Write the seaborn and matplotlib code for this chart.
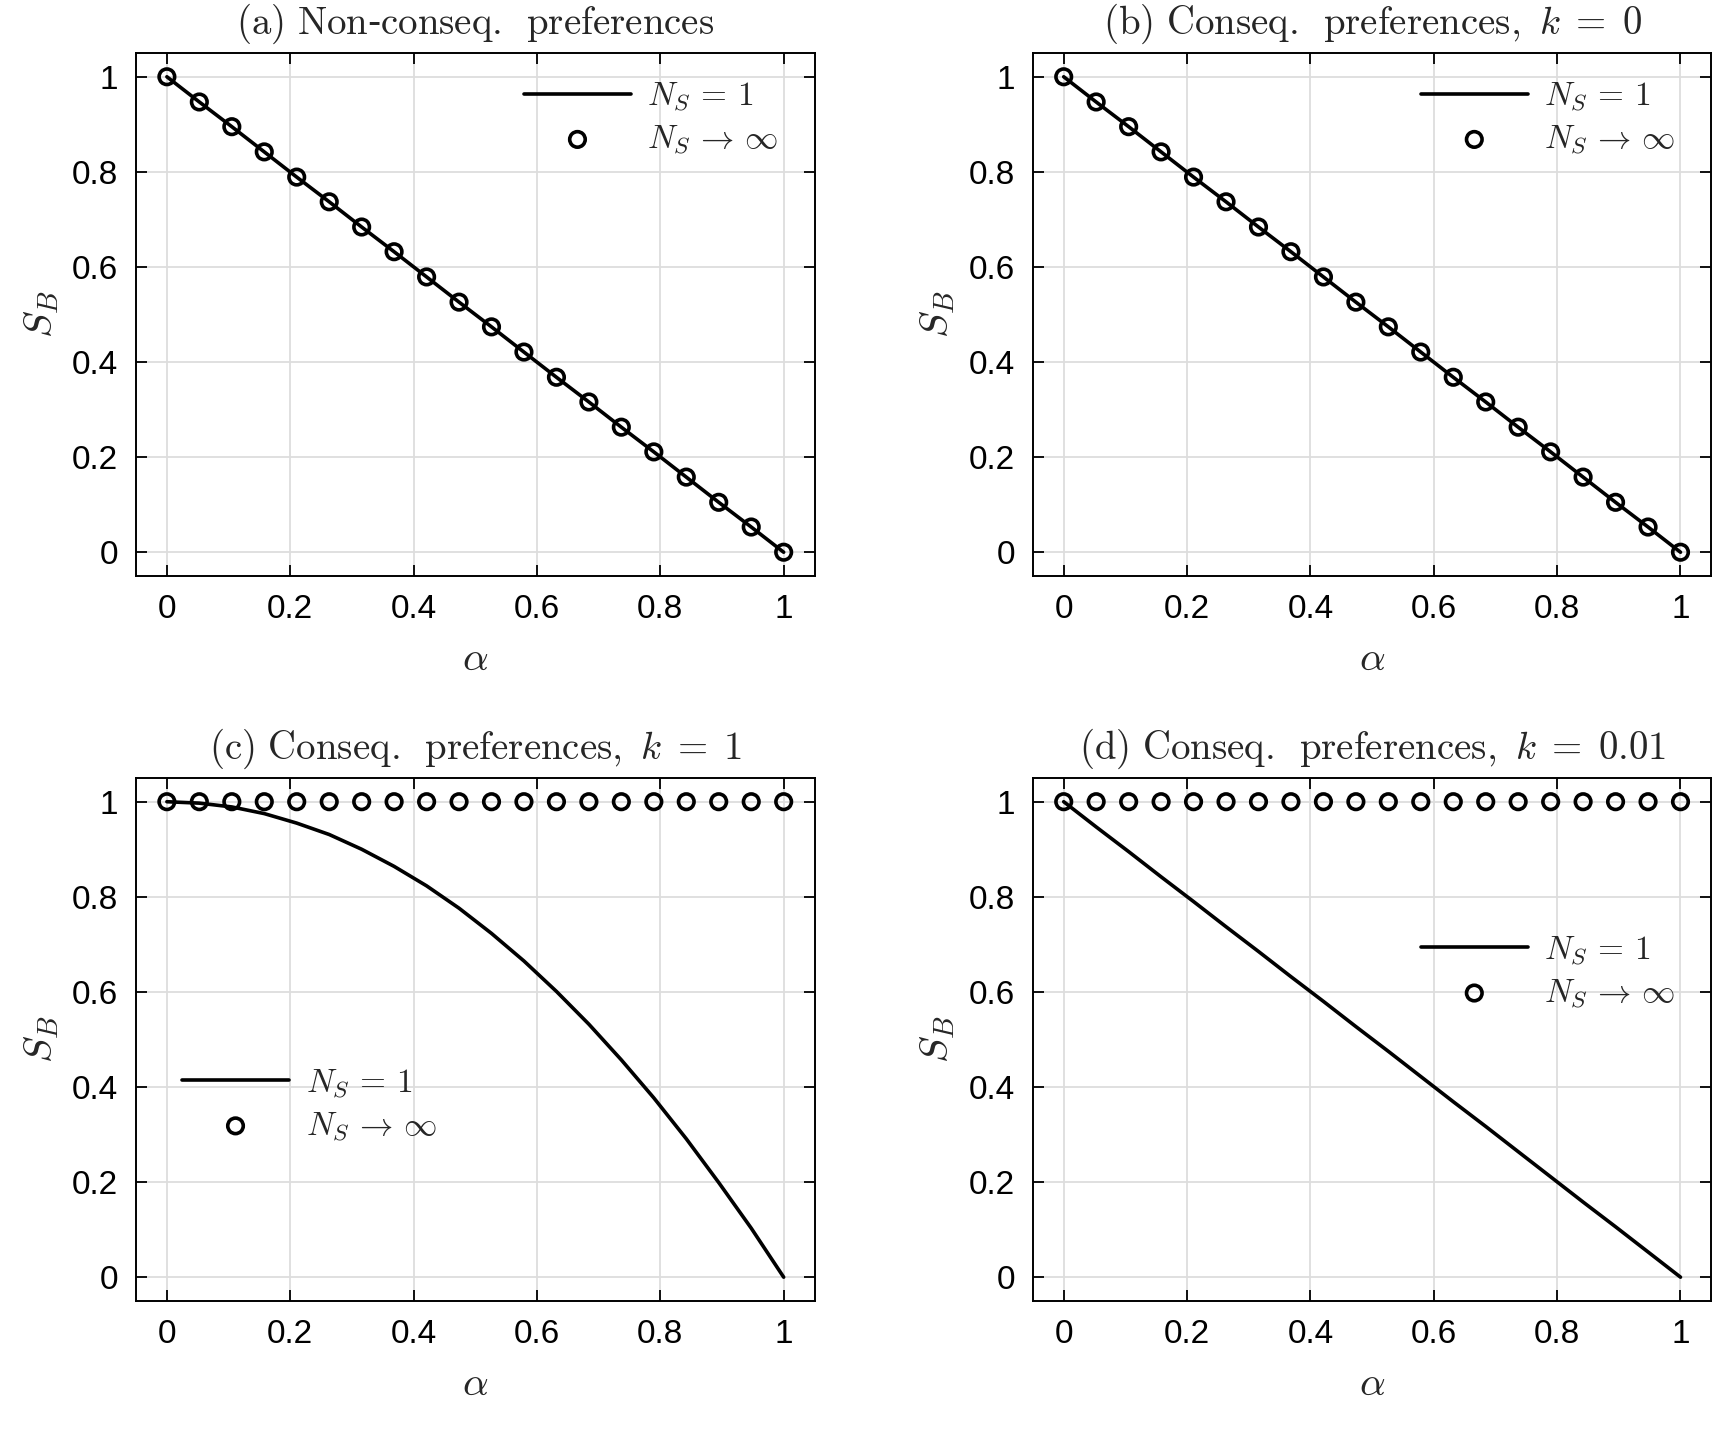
import numpy as np
import pandas as pd
import seaborn as sns
import matplotlib.pyplot as plt
from matplotlib.ticker import FuncFormatter

# data
alpha = [0.0, 0.0526, 0.1053, 0.1579, 0.2105, 0.2632, 0.3158, 0.3684, 0.4211, 0.4737,
         0.5263, 0.5789, 0.6316, 0.6842, 0.7368, 0.7895, 0.8421, 0.8947, 0.9474, 1.0]
sb_linear = [1.0, 0.947, 0.895, 0.842, 0.789, 0.737, 0.684, 0.632, 0.579, 0.526,
             0.474, 0.421, 0.368, 0.316, 0.263, 0.211, 0.158, 0.105, 0.053, 0.0]
sb_k1 = [1.0, 0.997, 0.989, 0.975, 0.955, 0.931, 0.900, 0.864, 0.823, 0.776,
         0.723, 0.665, 0.601, 0.532, 0.457, 0.377, 0.291, 0.199, 0.103, 0.0]
sb_k001 = [1.0, 0.947, 0.895, 0.842, 0.790, 0.737, 0.685, 0.632, 0.580, 0.527,
           0.475, 0.422, 0.369, 0.317, 0.264, 0.211, 0.158, 0.106, 0.053, 0.0]
sb_inf_ab = sb_linear
sb_inf_cd = [1.0] * 20

titles = [r'$\mathrm{(a)\ Non}$-$\mathrm{conseq.\ \,preferences}$',
          r'$\mathrm{(b)\ Conseq.\ \,preferences,}\ k\;=\;0$',
          r'$\mathrm{(c)\ Conseq.\ \,preferences,}\ k\;=\;1$',
          r'$\mathrm{(d)\ Conseq.\ \,preferences,}\ k\;=\;0.01$']
lines = [sb_linear, sb_linear, sb_k1, sb_k001]
circles = [sb_inf_ab, sb_inf_ab, sb_inf_cd, sb_inf_cd]
legend_pos = [(0.572, 0.875), (0.572, 0.875), (0.068, 0.375), (0.572, 0.629)]

#%%
sns.set_theme(style='ticks')
plt.rcParams['font.family'] = ['Liberation Sans', 'DejaVu Sans']
plt.rcParams['mathtext.fontset'] = 'cm'

fig = plt.figure(figsize=(17.33, 14.56), dpi=100)
boxes = [(0.0785, 0.6044), (0.596, 0.6044), (0.0785, 0.1065), (0.596, 0.1065)]
w, h = 0.3915, 0.3592

fmt = FuncFormatter(lambda v, p: f'{v:g}')

for i in range(4):
    ax = fig.add_axes([boxes[i][0], boxes[i][1], w, h])
    df = pd.DataFrame({'alpha': alpha, 'line': lines[i], 'inf': circles[i]})
    sns.lineplot(data=df, x='alpha', y='line', color='black', lw=2.6,
                 label=r'$N_S\,=\,1$', ax=ax, zorder=3)
    sns.scatterplot(data=df, x='alpha', y='inf', marker='o', s=125,
                    facecolor='none', edgecolor='black', linewidth=2.6,
                    label=r'$N_S\,\to\,\infty$', ax=ax, zorder=4)
    ax.set_xlim(-0.05, 1.05)
    ax.set_ylim(-0.05, 1.05)
    ticks = [0, 0.2, 0.4, 0.6, 0.8, 1]
    ax.set_xticks(ticks)
    ax.set_yticks(ticks)
    ax.xaxis.set_major_formatter(fmt)
    ax.yaxis.set_major_formatter(fmt)
    ax.grid(True, color='#dddddd', lw=1.3)
    ax.set_axisbelow(True)
    ax.tick_params(direction='in', top=True, right=True, length=8, width=1.3,
                   labelsize=24, pad=13, colors='black')
    for s in ax.spines.values():
        s.set_linewidth(1.4)
        s.set_color('black')
    ax.set_xlabel(r'$\alpha$', fontsize=29, labelpad=11)
    ax.set_ylabel(r'$S_B$', fontsize=29, labelpad=8)
    ax.set_title(titles[i], fontsize=28, pad=14, family='DejaVu Serif')
    ax.legend(loc='center left', bbox_to_anchor=legend_pos[i], frameon=False,
              fontsize=24, handlelength=3.2, borderpad=0, borderaxespad=0,
              handletextpad=0.5, labelspacing=0.3)

fig.savefig('out.png', dpi=100)
